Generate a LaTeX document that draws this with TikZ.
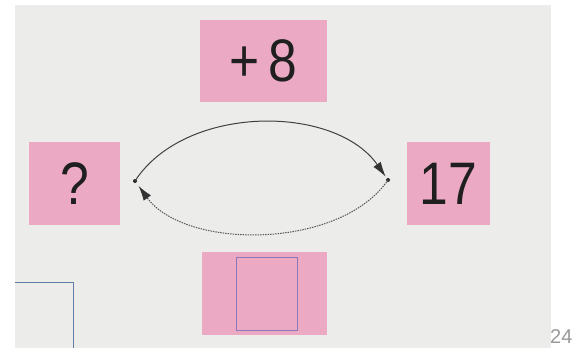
\documentclass[tikz,border=0pt]{standalone}
\usepackage{fontspec}
\setmainfont{Liberation Sans}
\usetikzlibrary{arrows.meta}
\definecolor{page}{HTML}{ECECEA}
\definecolor{pinkbox}{HTML}{EBA9C3}
\definecolor{frameblue}{HTML}{5F7FA8}
\definecolor{framepurple}{HTML}{8A78B8}
\definecolor{pagenum}{HTML}{9A9A9A}
\newcommand{\narrowtxt}[1]{\scalebox{0.86}[1]{#1}}
\tikzset{
  numbox/.style={fill=pinkbox, draw=none, inner sep=0pt, font=\fontsize{60}{62}\selectfont, text=black!88},
  dotpt/.style={circle, fill=black!85, inner sep=0pt, minimum size=4pt},
  bigtip/.tip={Latex[length=15pt,width=9pt,black!80]},
  curvearrow/.style={draw=black!75, line width=1pt, -bigtip},
  dotcurvearrow/.style={draw=black!65, line width=1pt, dash pattern=on 1.5pt off 1pt, -bigtip}
}
\begin{document}
\begin{tikzpicture}[x=1pt,y=-1pt]
\useasboundingbox (0,0) rectangle (574,348);
\fill[white] (0,0) rectangle (574,348);
\fill[page] (15,5) rectangle (551,348);
% boxes
\node[numbox, minimum width=127pt, minimum height=82pt] (plus) at (263.5,61) {\narrowtxt{+\,8}};
\node[numbox, minimum width=91pt, minimum height=83pt] (q) at (74.5,183.5) {\narrowtxt{?}};
\node[numbox, minimum width=83pt, minimum height=83pt] (res) at (448.5,183.5) {\narrowtxt{17}};
\node[numbox, minimum width=125pt, minimum height=83pt] (ans) at (264.5,293.5) {};
\node[draw=framepurple, line width=1pt, minimum width=61pt, minimum height=73pt, inner sep=0pt] (ansbox) at (266.5,293.5) {};
% dots
\node[dotpt] (l) at (135,181) {};
\node[dotpt] (r) at (388,180) {};
% arcs
\draw[curvearrow, shorten >=4pt] (l.center) .. controls (185,104) and (335,104) .. (r.center);
\draw[dotcurvearrow, shorten >=6pt] (r.center) .. controls (340,250) and (185,250) .. (l.center);
% blue frame bottom left
\draw[frameblue, line width=1pt] (15,282) -- (73,282) -- (73,348);
% page number
\node[text=pagenum, font=\fontsize{20}{20}\selectfont, anchor=base west, inner sep=0pt] (pn) at (550,343) {24};
\end{tikzpicture}
\end{document}
